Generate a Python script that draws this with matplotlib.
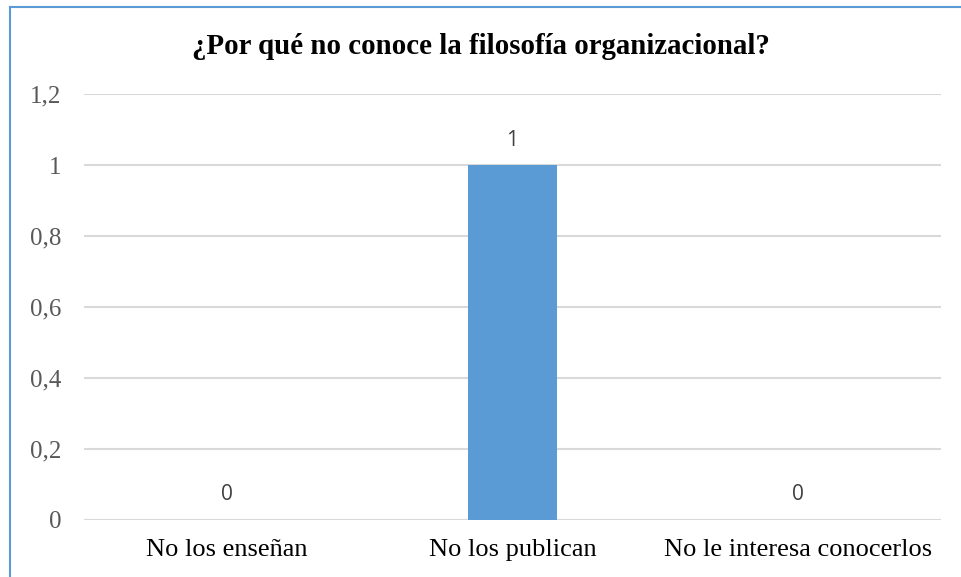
import matplotlib.pyplot as plt
from matplotlib.lines import Line2D

categories = ["No los enseñan", "No los publican", "No le interesa conocerlos"]
counts = [0, 1, 0]
yticks = [0, 0.2, 0.4, 0.6, 0.8, 1.0, 1.2]
ytick_labels = ["0", "0,2", "0,4", "0,6", "0,8", "1", "1,2"]

bar_color = "#5B9BD5"
grid_color = "#D9D9D9"

fig = plt.figure(figsize=(9.61, 5.77), dpi=100)
ax = fig.add_axes([84 / 961, 1 - 520 / 577, 857 / 961, 426 / 577])

x = range(len(categories))
ax.bar(x, counts, width=0.31, color=bar_color, zorder=3)
for xi, v in zip(x, counts):
    ax.annotate(f"{v}", (xi, v), xytext=(0, 18), textcoords="offset points",
                ha="center", va="center", fontsize=15, color="#404040",
                family="Open Sans")

ax.set_xlim(-0.5, 2.5)
ax.set_ylim(0, 1.2)
ax.set_yticks(yticks)
ax.set_yticklabels(ytick_labels, family="Liberation Serif", fontsize=18, color="#595959")
ax.set_xticks(list(x))
ax.set_xticklabels(categories, family="Liberation Serif", fontsize=19, color="black")
ax.tick_params(axis="both", length=0)
ax.tick_params(axis="y", pad=16.5)
ax.tick_params(axis="x", pad=13.5)
ax.yaxis.grid(True, color=grid_color, linewidth=1.5, zorder=0)
for spine in ax.spines.values():
    spine.set_visible(False)
ax.axhline(0, color=grid_color, linewidth=1.5, zorder=2)

fig.text(0.5, 1 - 46 / 577, "¿Por qué no conoce la filosofía organizacional?",
         ha="center", va="center", family="Liberation Serif",
         fontsize=20.8, fontweight="bold")

# frame lines at the top and left edges
fig.add_artist(Line2D([10 / 961, 1], [1 - 7 / 577, 1 - 7 / 577],
                      transform=fig.transFigure, color=bar_color, linewidth=1.5))
fig.add_artist(Line2D([10 / 961, 10 / 961], [0, 1 - 7 / 577],
                      transform=fig.transFigure, color=bar_color, linewidth=1.5))

fig.savefig("out.png", dpi=100)
